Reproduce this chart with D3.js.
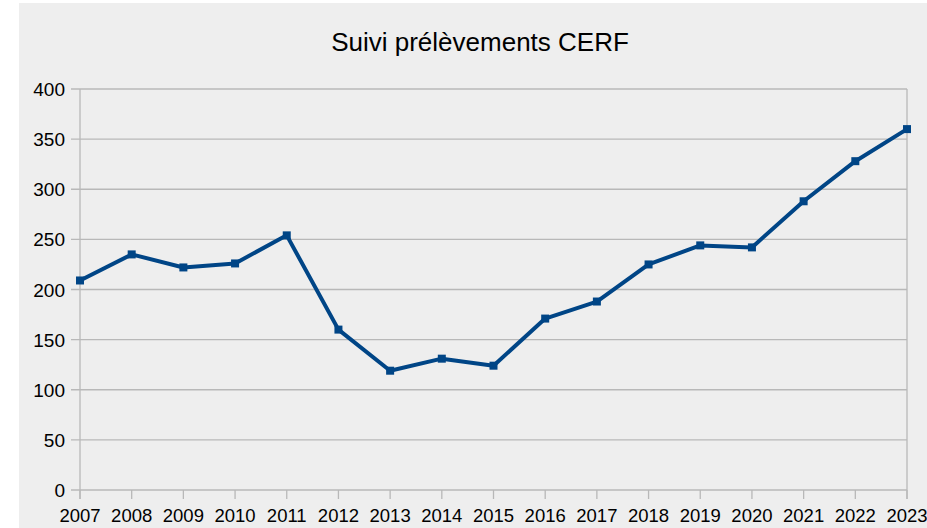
<!DOCTYPE html>
<html>
<head>
<meta charset="utf-8">
<script src="https://cdn.jsdelivr.net/npm/d3@7"></script>
<style>
  body { margin: 0; background: #fff; }
  svg { display: block; font-family: "Liberation Sans", Arial, sans-serif; }
</style>
</head>
<body>
<svg width="927" height="528"></svg>
<script>
const years = ["2007","2008","2009","2010","2011","2012","2013","2014","2015","2016","2017","2018","2019","2020","2021","2022","2023"];
const values = [209, 235, 222, 226, 254, 160, 119, 131, 124, 171, 188, 225, 244, 242, 288, 328, 360];
const yTicks = [0, 50, 100, 150, 200, 250, 300, 350, 400];
const title = "Suivi prélèvements CERF";

const svg = d3.select("svg"),
    width = +svg.attr("width"),
    height = +svg.attr("height");

const margin = {top: 89, right: 20, bottom: 38, left: 80};

svg.append("rect")
    .attr("x", 19).attr("y", 3)
    .attr("width", width - 19).attr("height", height - 3)
    .attr("fill", "#eeeeee");

const x = d3.scalePoint()
    .domain(years)
    .range([margin.left, width - margin.right]);

const y = d3.scaleLinear()
    .domain([0, 400])
    .range([height - margin.bottom, margin.top]);

// horizontal gridlines
svg.append("g")
    .attr("class", "grid")
    .selectAll("line")
    .data(yTicks)
    .enter().append("line")
    .attr("x1", margin.left - 9)
    .attr("x2", width - margin.right)
    .attr("y1", d => y(d))
    .attr("y2", d => y(d))
    .attr("stroke", "#b8b8b8")
    .attr("stroke-width", 1.3);

// vertical frame lines
svg.append("line")
    .attr("x1", margin.left).attr("x2", margin.left)
    .attr("y1", y(400)).attr("y2", y(0) + 9)
    .attr("stroke", "#b8b8b8").attr("stroke-width", 1.3);
svg.append("line")
    .attr("x1", width - margin.right).attr("x2", width - margin.right)
    .attr("y1", y(400)).attr("y2", y(0) + 9)
    .attr("stroke", "#b8b8b8").attr("stroke-width", 1.3);

// x tick marks
svg.append("g")
    .selectAll("line")
    .data(years)
    .enter().append("line")
    .attr("x1", d => x(d)).attr("x2", d => x(d))
    .attr("y1", y(0)).attr("y2", y(0) + 9)
    .attr("stroke", "#b8b8b8").attr("stroke-width", 1.3);

// y labels
svg.append("g")
    .selectAll("text")
    .data(yTicks)
    .enter().append("text")
    .attr("x", margin.left - 15)
    .attr("y", d => y(d) + 7)
    .attr("text-anchor", "end")
    .attr("font-size", 19)
    .attr("fill", "#000")
    .text(d => d);

// x labels
svg.append("g")
    .selectAll("text")
    .data(years)
    .enter().append("text")
    .attr("x", d => x(d))
    .attr("y", y(0) + 32)
    .attr("text-anchor", "middle")
    .attr("font-size", 18.5)
    .attr("fill", "#000")
    .text(d => d);

const data = years.map((yr, i) => ({year: yr, value: values[i]}));

const line = d3.line()
    .x(d => x(d.year))
    .y(d => y(d.value));

svg.append("path")
    .datum(data)
    .attr("fill", "none")
    .attr("stroke", "#004586")
    .attr("stroke-width", 4)
    .attr("stroke-linejoin", "round")
    .attr("d", line);

svg.append("g")
    .selectAll("rect")
    .data(data)
    .enter().append("rect")
    .attr("x", d => x(d.year) - 4)
    .attr("y", d => y(d.value) - 4)
    .attr("width", 8)
    .attr("height", 8)
    .attr("fill", "#004586");

svg.append("text")
    .attr("x", 480)
    .attr("y", 51)
    .attr("text-anchor", "middle")
    .attr("font-size", 26)
    .attr("fill", "#000")
    .text(title);
</script>
</body>
</html>
